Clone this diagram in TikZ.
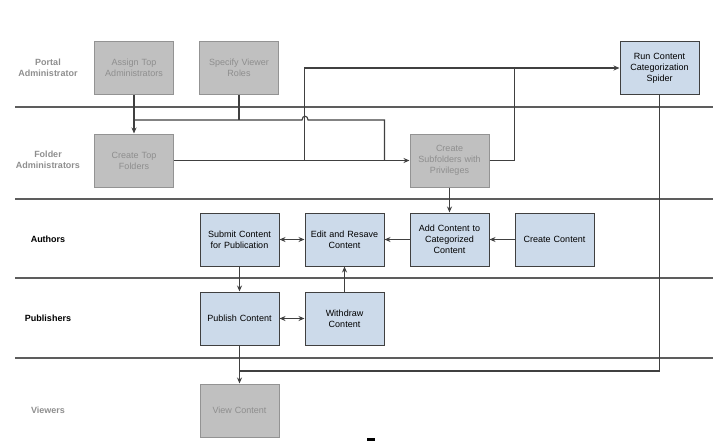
\documentclass[tikz,border=0pt]{standalone}
\usepackage{fontspec}
\setmainfont{Liberation Sans}
\usetikzlibrary{positioning,arrows.meta,calc}

\definecolor{taskblue}{HTML}{CCDAEA}
\definecolor{offgray}{HTML}{C0C0C0}
\definecolor{offtext}{HTML}{8E8E8E}
\definecolor{linegray}{HTML}{404040}

\tikzset{
  task/.style={draw=linegray, line width=1pt, fill=taskblue, minimum width=79pt, minimum height=53pt, inner sep=2pt, align=center, text width=75pt, font=\fontsize{9}{11}\selectfont},
  offtask/.style={task, draw=gray!85, fill=offgray, text=offtext},
  lanelabel/.style={align=center, font=\fontsize{9}{11}\selectfont\bfseries},
  lane/.style={draw=linegray!85, line width=1.5pt},
  flow/.style={draw=linegray, line width=1.1pt, >={Stealth[length=6pt,width=5pt]}}
}

\begin{document}
\begin{tikzpicture}[x=1pt,y=-1pt]
\useasboundingbox (0,0) rectangle (727,444);
% swim lanes
\foreach \y in {107,199,278,358}
  \draw [lane] (15,\y) -- (713,\y);
\node [lanelabel,text=offtext] (lportal) at (48,68) {Portal\\Administrator};
\node [lanelabel,text=offtext] (lfolder) at (48,160) {Folder\\Administrators};
\node [lanelabel] (lauthor) at (48,239) {Authors};
\node [lanelabel] (lpublish) at (48,318) {Publishers};
\node [lanelabel,text=offtext] (lviewer) at (48,410) {Viewers};
% tasks
\node [offtask] (assign) at (134,68) {Assign Top\\Administrators};
\node [offtask] (viewer) at (239,68) {Specify Viewer\\Roles};
\node [task] (spider) at (659.5,68) {Run Content\\Categorization\\Spider};
\node [offtask] (topfold) at (134,160.5) {Create Top\\Folders};
\node [offtask] (subfold) at (449.5,160.5) {Create\\Subfolders with\\Privileges};
\node [task] (submit) at (239.5,239.5) {Submit Content\\for Publication};
\node [task] (edit) at (344.5,239.5) {Edit and Resave\\Content};
\node [task] (addc) at (449.5,239.5) {Add Content to\\Categorized\\Content};
\node [task] (create) at (554.5,239.5) {Create Content};
\node [task] (publish) at (239.5,318.5) {Publish Content};
\node [task] (withdraw) at (344.5,318.5) {Withdraw\\Content};
\node [offtask] (view) at (239.5,410.5) {View Content};
% junctions
\coordinate (bus1) at (384.5,120);
\coordinate (bus2) at (239.5,371);
% connectors
\draw [flow,->] (assign) -- (topfold);
\draw [flow] (viewer.south) -- (viewer.south |- bus1);
\draw [flow] (assign.south |- bus1) -- (302,120) .. controls (302,115) and (308,115) .. (308,120) -- (bus1) -- (bus1 |- subfold);
\draw [flow,->] (topfold) -- (subfold);
\draw [flow,->] (edit.west |- topfold) |- (spider);
\draw [flow] (subfold) -| (create.west |- spider);
\draw [flow,->] (subfold) -- (addc);
\draw [flow] (spider) |- (bus2);
\draw [flow,->] (create) -- (addc);
\draw [flow,->] (addc) -- (edit);
\draw [flow,<->] (submit) -- (edit);
\draw [flow,->] (submit) -- (publish);
\draw [flow,<->] (publish) -- (withdraw);
\draw [flow,->] (withdraw) -- (edit);
\draw [flow,->] (publish) -- (view);
\fill (367,438) rectangle (375,440.5);
\end{tikzpicture}
\end{document}
